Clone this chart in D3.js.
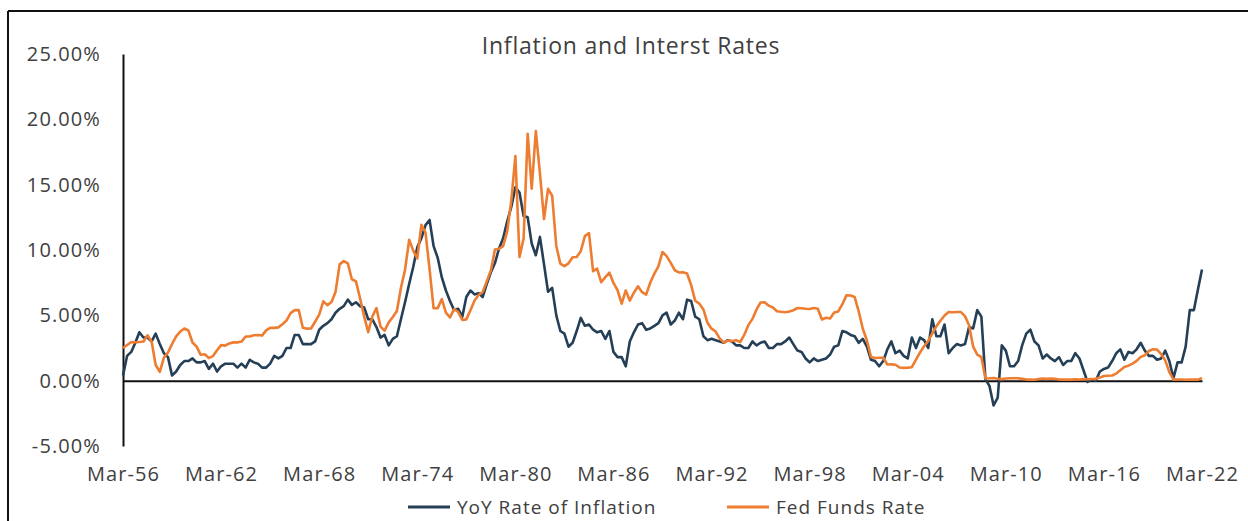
<!DOCTYPE html>
<html>
<head>
<meta charset="utf-8">
<script src="https://cdn.jsdelivr.net/npm/d3@7"></script>
<style>
  body { margin: 0; background: #fff; }
  text { font-family: "Open Sans", sans-serif; }
</style>
</head>
<body>
<div id="chart"></div>
<script>
// quarterly readings (Mar, Jun, Sep, Dec), Mar-56 .. Mar-22, in percent
var inflation = [
  0.4, 1.9, 2.2, 2.9,   3.7, 3.3, 3.3, 3.0,   3.6, 2.8, 2.1, 1.8,   0.4, 0.7, 1.2, 1.5,
  1.5, 1.7, 1.4, 1.4,   1.5, 0.9, 1.3, 0.7,   1.1, 1.3, 1.3, 1.3,   1.0, 1.3, 1.0, 1.6,
  1.4, 1.3, 1.0, 1.0,   1.3, 1.9, 1.7, 1.9,   2.5, 2.5, 3.5, 3.5,   2.8, 2.8, 2.8, 3.0,
  3.9, 4.2, 4.4, 4.7,   5.2, 5.5, 5.7, 6.2,   5.8, 6.0, 5.7, 5.6,   4.7, 4.7, 4.1, 3.3,
  3.5, 2.7, 3.2, 3.4,   4.7, 6.0, 7.4, 8.7,   10.2, 10.9, 11.9, 12.3,   10.3, 9.4, 7.9, 6.9,
  6.1, 5.4, 5.5, 4.9,   6.4, 6.9, 6.6, 6.7,   6.4, 7.4, 8.3, 9.0,   10.1, 10.9, 12.2, 13.3,
  14.8, 14.4, 12.6, 12.5,   10.5, 9.6, 11.0, 8.9,   6.8, 7.1, 5.0, 3.8,   3.6, 2.6, 2.9, 3.8,
  4.8, 4.2, 4.3, 3.9,   3.7, 3.8, 3.2, 3.8,   2.2, 1.8, 1.8, 1.1,   3.0, 3.7, 4.3, 4.4,
  3.9, 4.0, 4.2, 4.4,   5.0, 5.2, 4.3, 4.6,   5.2, 4.7, 6.2, 6.1,   4.9, 4.7, 3.4, 3.1,
  3.2, 3.1, 3.0, 2.9,   3.1, 3.0, 2.7, 2.7,   2.5, 2.5, 3.0, 2.7,   2.9, 3.0, 2.5, 2.5,
  2.8, 2.8, 3.0, 3.3,   2.8, 2.3, 2.2, 1.7,   1.4, 1.7, 1.5, 1.6,   1.7, 2.0, 2.6, 2.7,
  3.8, 3.7, 3.5, 3.4,   2.9, 3.2, 2.6, 1.6,   1.5, 1.1, 1.5, 2.4,   3.0, 2.1, 2.3, 1.9,
  1.7, 3.3, 2.5, 3.3,   3.1, 2.5, 4.7, 3.4,   3.4, 4.3, 2.1, 2.5,   2.8, 2.7, 2.8, 4.1,
  4.0, 5.4, 4.9, 0.1,   -0.4, -1.9, -1.3, 2.7,   2.3, 1.1, 1.1, 1.5,   2.7, 3.6, 3.9, 3.0,
  2.7, 1.7, 2.0, 1.7,   1.5, 1.8, 1.2, 1.5,   1.5, 2.1, 1.7, 0.8,   -0.1, 0.1, 0.0, 0.7,
  0.9, 1.0, 1.5, 2.1,   2.4, 1.6, 2.2, 2.1,   2.4, 2.9, 2.3, 1.9,   1.9, 1.6, 1.7, 2.3,
  1.5, 0.2, 1.4, 1.4,   2.6, 5.4, 5.4, 7.0,   8.5
];

var fedFunds = [
  2.50, 2.73, 2.95, 2.94,   2.96, 3.00, 3.47, 2.98,   1.20, 0.68, 1.76, 2.16,   2.80, 3.39, 3.76, 3.99,
  3.84, 2.92, 2.60, 1.98,   2.02, 1.73, 1.88, 2.33,   2.72, 2.68, 2.85, 2.93,   2.93, 2.99, 3.38, 3.38,
  3.48, 3.50, 3.45, 3.85,   4.04, 4.04, 4.08, 4.32,   4.60, 5.17, 5.40, 5.40,   4.05, 3.98, 3.99, 4.51,
  5.05, 6.07, 5.78, 6.02,   6.79, 8.90, 9.15, 8.97,   7.76, 7.60, 6.29, 4.90,   3.71, 4.91, 5.55, 4.14,
  3.83, 4.46, 4.87, 5.33,   7.09, 8.49, 10.78, 9.95,   9.35, 11.93, 11.34, 8.53,   5.54, 5.55, 6.24, 5.20,
  4.84, 5.48, 5.25, 4.65,   4.69, 5.39, 6.14, 6.56,   6.79, 7.60, 8.45, 10.03,   10.09, 10.29, 11.43, 13.78,
  17.19, 9.47, 10.87, 18.90,   14.70, 19.10, 15.87, 12.37,   14.68, 14.15, 10.31, 8.95,   8.77, 8.98, 9.45, 9.47,
  9.91, 11.06, 11.30, 8.38,   8.58, 7.53, 7.92, 8.27,   7.48, 6.92, 5.89, 6.91,   6.13, 6.73, 7.22, 6.77,
  6.58, 7.51, 8.19, 8.76,   9.85, 9.53, 9.01, 8.45,   8.28, 8.29, 8.20, 7.31,   6.12, 5.90, 5.45, 4.43,
  3.98, 3.76, 3.22, 2.92,   3.07, 3.04, 3.09, 2.96,   3.50, 4.25, 4.73, 5.45,   5.98, 6.00, 5.74, 5.60,
  5.31, 5.27, 5.24, 5.29,   5.39, 5.56, 5.54, 5.50,   5.49, 5.56, 5.51, 4.68,   4.81, 4.76, 5.22, 5.30,
  5.85, 6.53, 6.52, 6.40,   5.31, 3.97, 3.07, 1.82,   1.73, 1.75, 1.75, 1.24,   1.25, 1.22, 1.01, 0.98,
  1.00, 1.03, 1.61, 2.16,   2.63, 3.04, 3.62, 4.16,   4.59, 4.99, 5.25, 5.24,   5.26, 5.25, 4.94, 4.24,
  2.61, 2.00, 1.81, 0.16,   0.18, 0.21, 0.15, 0.12,   0.16, 0.18, 0.19, 0.18,   0.14, 0.09, 0.08, 0.07,
  0.13, 0.16, 0.14, 0.16,   0.14, 0.09, 0.08, 0.09,   0.08, 0.10, 0.09, 0.12,   0.11, 0.13, 0.14, 0.24,
  0.36, 0.38, 0.40, 0.54,   0.79, 1.04, 1.15, 1.30,   1.51, 1.82, 1.95, 2.27,   2.41, 2.38, 2.04, 1.55,
  0.65, 0.08, 0.09, 0.09,   0.07, 0.08, 0.08, 0.08,   0.20
];

var tickYears = [1956, 1962, 1968, 1974, 1980, 1986, 1992, 1998, 2004, 2010, 2016, 2022];
var yTicks = [-5, 0, 5, 10, 15, 20, 25];
var seriesNames = ["YoY Rate of Inflation", "Fed Funds Rate"];
var seriesColors = ["#243f56", "#ed7d31"];

var W = 1248, H = 521;
var start = new Date(1956, 2, 1), end = new Date(2022, 2, 1);
var quarters = d3.timeMonth.range(start, d3.timeMonth.offset(end, 1), 3);

var svg = d3.select("#chart").append("svg")
    .attr("width", W)
    .attr("height", H);

// frame edges visible in the reference
svg.append("line").attr("x1", 8).attr("x2", W).attr("y1", 11).attr("y2", 11)
    .attr("stroke", "#111").attr("stroke-width", 2);
svg.append("line").attr("x1", 8).attr("x2", 8).attr("y1", 11).attr("y2", H)
    .attr("stroke", "#111").attr("stroke-width", 2);

var x = d3.scaleTime().domain([start, end]).range([123, 1202]);
var y = d3.scaleLinear().domain([-5, 25]).range([446, 54]);

svg.append("text")
    .attr("x", 631)
    .attr("y", 54)
    .attr("text-anchor", "middle")
    .style("font-size", "23px")
    .style("letter-spacing", "0.8px")
    .style("fill", "#404040")
    .text("Inflation and Interst Rates");

var yAxis = svg.append("g")
    .attr("transform", "translate(123,0)")
    .call(d3.axisLeft(y).tickValues(yTicks).tickSize(0).tickSizeOuter(0).tickPadding(22)
        .tickFormat(function(d) { return d.toFixed(2) + "%"; }));
yAxis.select(".domain").attr("stroke", "#111").attr("stroke-width", 2);
yAxis.selectAll("text")
    .style("font-size", "20px")
    .style("letter-spacing", "1.1px")
    .style("fill", "#404040");

// zero line
var zeroAxis = svg.append("g")
    .attr("transform", "translate(0," + y(0) + ")")
    .call(d3.axisBottom(x).tickValues([]).tickSizeOuter(0));
zeroAxis.select(".domain").attr("stroke", "#111").attr("stroke-width", 2);

var fmt = d3.timeFormat("%b-%y");
var xAxis = svg.append("g")
    .attr("transform", "translate(0,446)")
    .call(d3.axisBottom(x)
        .tickValues(tickYears.map(function(yr) { return new Date(yr, 2, 1); }))
        .tickSize(0).tickPadding(21).tickFormat(fmt));
xAxis.select(".domain").remove();
xAxis.selectAll("text")
    .style("font-size", "20px")
    .style("letter-spacing", "1.1px")
    .style("fill", "#404040");

var line = d3.line()
    .x(function(d, i) { return x(quarters[i]); })
    .y(function(d) { return y(d); });

[inflation, fedFunds].forEach(function(s, k) {
    svg.append("path")
        .datum(s)
        .attr("fill", "none")
        .attr("stroke", seriesColors[k])
        .attr("stroke-width", 2.6)
        .attr("stroke-linejoin", "round")
        .attr("d", line);
});

// legend
var legendX = [408, 727];
seriesNames.forEach(function(name, k) {
    var g = svg.append("g").attr("transform", "translate(" + legendX[k] + ",507)");
    g.append("line").attr("x1", 0).attr("x2", 42)
        .attr("stroke", seriesColors[k]).attr("stroke-width", 3);
    g.append("text")
        .attr("x", 49)
        .attr("dy", "0.35em")
        .style("font-size", "19px")
        .style("letter-spacing", "1px")
        .style("fill", "#404040")
        .text(name);
});
</script>
</body>
</html>
